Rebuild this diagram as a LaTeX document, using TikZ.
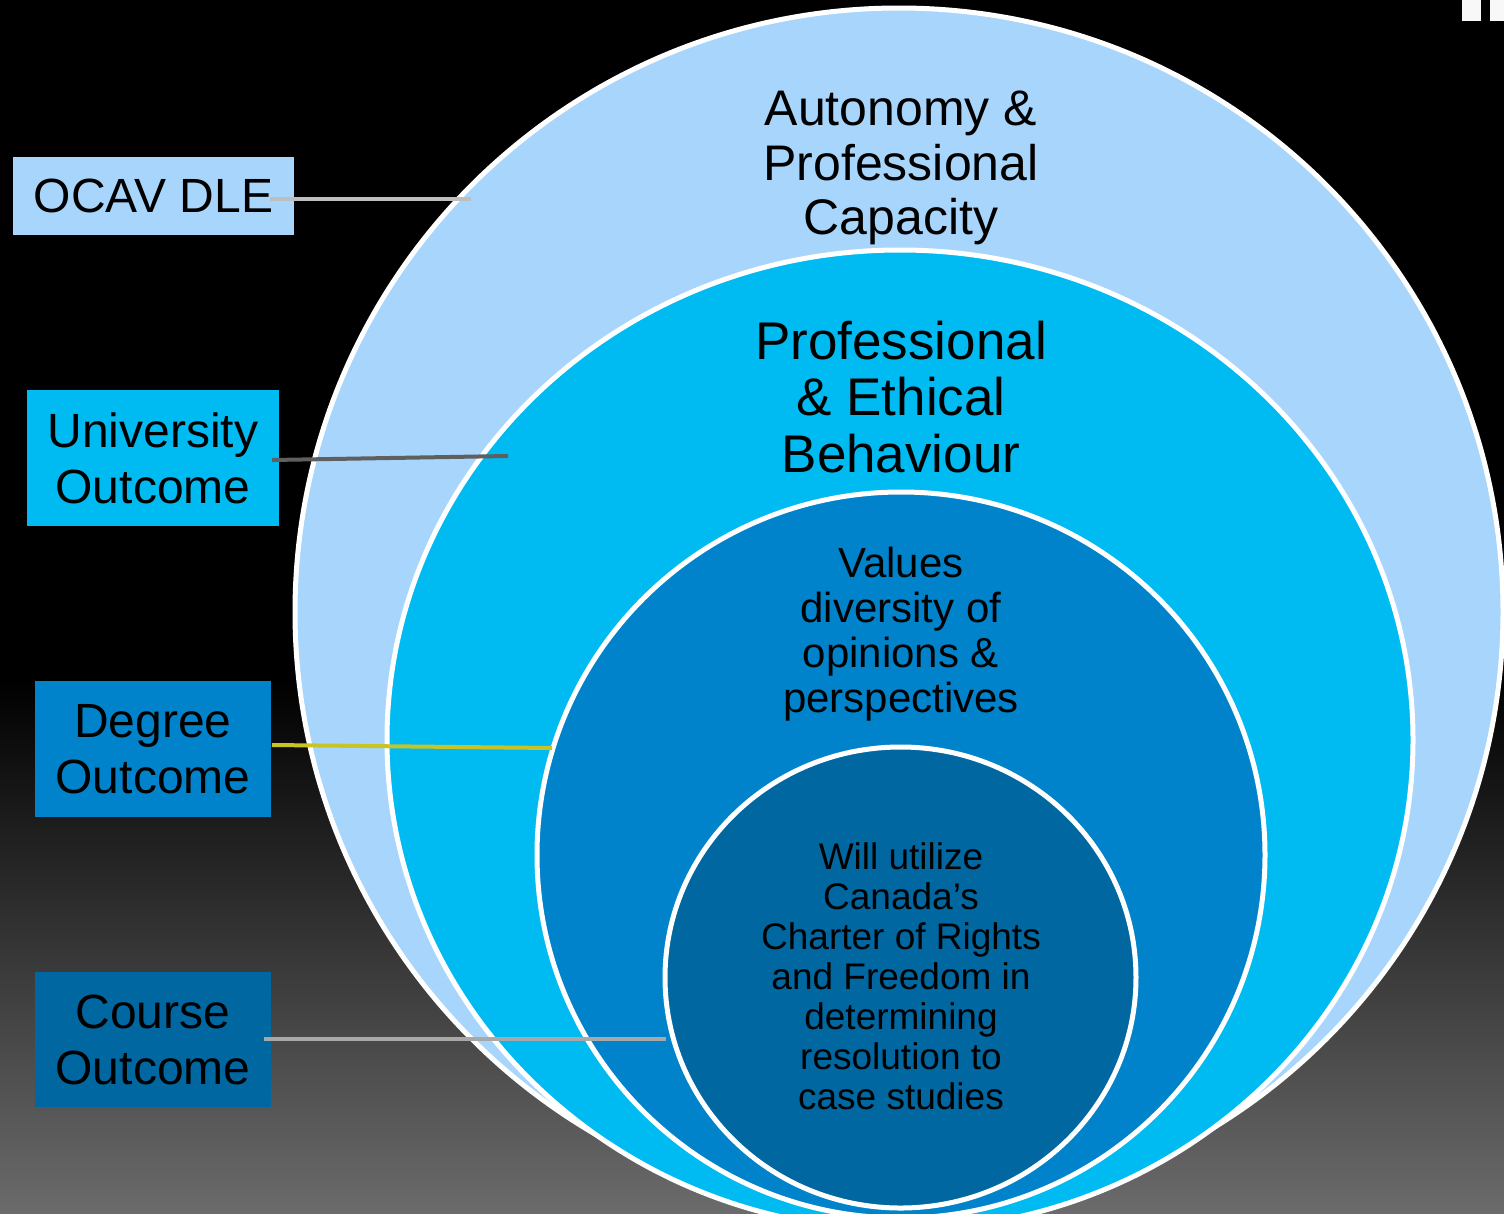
\documentclass[tikz,border=0pt]{standalone}
\usepackage{fontspec}
\setmainfont{Liberation Sans}
\definecolor{cOuter}{RGB}{168,213,252}
\definecolor{cSecond}{RGB}{0,187,242}
\definecolor{cThird}{RGB}{0,131,202}
\definecolor{cInner}{RGB}{0,103,161}
\definecolor{cBottom}{RGB}{107,107,107}
\definecolor{lnLight}{RGB}{190,190,190}
\definecolor{lnDark}{RGB}{95,95,95}
\definecolor{lnYellow}{RGB}{200,196,35}
\definecolor{lnGrey}{RGB}{168,168,168}
\definecolor{cMark}{RGB}{248,248,248}
\begin{document}
\begin{tikzpicture}[x=1pt,y=-1pt,
  ring/.style={draw=white, line width=5pt},
  lblbox/.style={inner sep=0pt, text=black, align=center, font=\fontsize{48}{56}\selectfont},
  ringtext/.style={inner sep=0pt, text=black, align=center},
  conn/.style={line width=4pt, line cap=butt}
]
\useasboundingbox (0,0) rectangle (1504,1213);
\begin{scope}
\clip (0,0) rectangle (1504,1213);
% background
\fill[black] (0,0) rectangle (1504,680);
\shade[top color=black, bottom color=cBottom] (0,679) rectangle (1504,1213);
% top-right marks
\fill[cMark] (1462,0) rectangle (1481,21);
\fill[cMark] (1490,0) rectangle (1504,21);
% nested circles
\path[ring, fill=cOuter] (899,612) ellipse [x radius=604pt, y radius=604pt];
\path[ring, fill=cSecond] (900,740) ellipse [x radius=513pt, y radius=490pt];
\path[ring, fill=cThird] (901,855) ellipse [x radius=364pt, y radius=363pt];
\path[ring, fill=cInner] (900.5,977.5) ellipse [x radius=235.5pt, y radius=230.5pt];
\end{scope}

% circle texts
\node[ringtext, font=\fontsize{50}{54.5}\selectfont] (t1) at (901,168)
  {Autonomy \&\\Professional\\Capacity};
\node[ringtext, font=\fontsize{53}{56.5}\selectfont] (t2) at (901,397)
  {Professional\\\& Ethical\\Behaviour};
\node[ringtext, font=\fontsize{42}{45}\selectfont] (t3) at (901,634)
  {Values\\diversity of\\opinions \&\\perspectives};
\node[ringtext, font=\fontsize{37}{40}\selectfont] (t4) at (901,976.5)
  {Will utilize\\Canada’s\\Charter of Rights\\and Freedom in\\determining\\resolution to\\case studies};

% label boxes
\node[lblbox, fill=cOuter, minimum width=281pt, minimum height=78pt] (ocav) at (153.5,196) {OCAV DLE};
\node[lblbox, fill=cSecond, minimum width=252pt, minimum height=136pt] (univ) at (153,458) {University\\Outcome};
\node[lblbox, fill=cThird, minimum width=236pt, minimum height=136pt] (degree) at (153,749) {Degree\\Outcome};
\node[lblbox, fill=cInner, minimum width=236pt, minimum height=135pt] (course) at (153,1039.5) {Course\\Outcome};

% connector end points
\coordinate (ocavA) at (270,198.5);
\coordinate (ocavB) at (471,198.5);
\coordinate (univA) at (272,460);
\coordinate (univB) at (508,456);
\coordinate (degA) at (272,745);
\coordinate (degB) at (552,748);
\coordinate (courseA) at (264,1038.5);
\coordinate (courseB) at (666,1038.5);

\draw[conn, lnLight] (ocavA) -- (ocavB);
\draw[conn, lnDark] (univA) -- (univB);
\draw[conn, lnYellow] (degA) -- (degB);
\draw[conn, lnGrey] (courseA) -- (courseB);
\end{tikzpicture}
\end{document}
